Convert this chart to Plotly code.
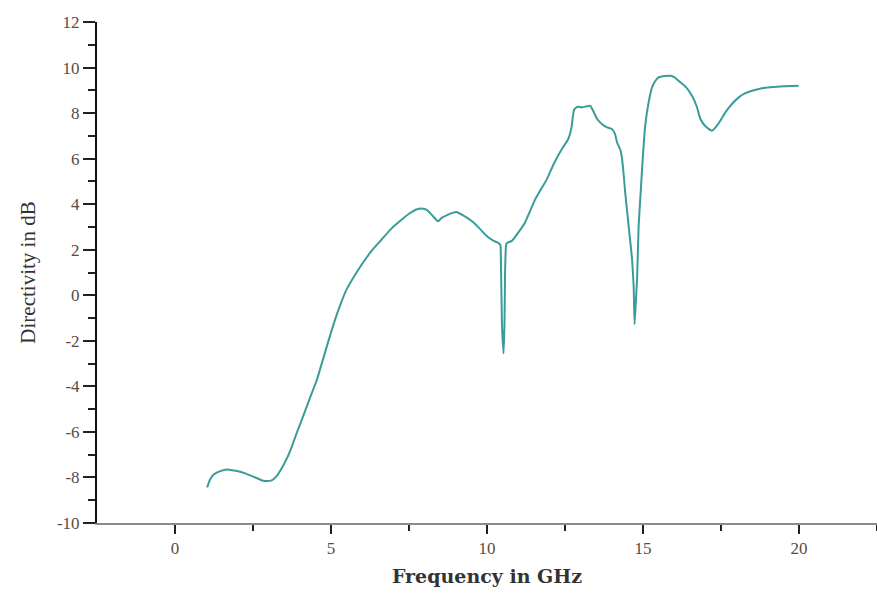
import plotly.graph_objects as go

freq = [1.03, 1.12, 1.24, 1.45, 1.67, 1.99, 2.25, 2.47, 2.79, 2.95, 3.1, 3.25, 3.43, 3.6, 3.75, 3.9, 4.07, 4.3, 4.55,
        4.8, 5.03, 5.25, 5.5, 5.75, 5.99, 6.3, 6.63, 6.95, 7.28, 7.5, 7.76, 7.95, 8.08, 8.25, 8.43, 8.55, 8.72,
        8.9, 9.04, 9.25, 9.52, 9.75, 10.0, 10.2, 10.32, 10.40, 10.43, 10.45, 10.48, 10.53,
        10.56, 10.58, 10.61, 10.64, 10.8, 11.0, 11.22, 11.54, 11.92, 12.15, 12.4, 12.6, 12.7, 12.79, 12.9, 13.04,
        13.2, 13.31, 13.42, 13.53, 13.7, 13.85, 14.0, 14.1, 14.17, 14.27, 14.33, 14.38, 14.43, 14.54, 14.65,
        14.7, 14.73, 14.77, 14.81, 14.86, 14.92, 14.97, 15.07, 15.18, 15.29, 15.4,
        15.5, 15.7, 15.88, 16.0, 16.14, 16.37, 16.57, 16.72, 16.84, 17.0, 17.21, 17.4, 17.64, 17.85, 18.07,
        18.25, 18.49, 18.75, 19.08, 19.5, 19.99]
directivity = [-8.44, -8.1, -7.87, -7.72, -7.65, -7.72, -7.82, -7.94, -8.13, -8.16, -8.13, -7.95, -7.57, -7.12,
               -6.62, -6.05, -5.45, -4.6, -3.7, -2.55, -1.5, -0.6, 0.26, 0.85, 1.36, 1.95, 2.46, 2.95, 3.34, 3.58,
               3.78, 3.8, 3.74, 3.5, 3.25, 3.4, 3.52, 3.62, 3.65, 3.5, 3.25, 2.95, 2.59, 2.4, 2.33, 2.25, 2.2, 1.1,
               -1.3, -2.55, -1.3, 1.1, 2.2, 2.3, 2.39, 2.75, 3.2, 4.2, 5.1, 5.8, 6.42, 6.85, 7.3, 8.15, 8.28, 8.25,
               8.3, 8.32, 8.05, 7.74, 7.5, 7.37, 7.3, 7.1, 6.71, 6.4, 5.98, 5.3, 4.5, 3.05, 1.58,
               0.41, -1.27, -0.3, 0.7, 3.05, 4.4, 5.54, 7.44, 8.47, 9.13, 9.42,
               9.57, 9.63, 9.64, 9.58, 9.42, 9.15, 8.76, 8.3, 7.74, 7.42, 7.22, 7.5, 8.03, 8.4, 8.69,
               8.85, 8.98, 9.07, 9.13, 9.18, 9.2]

x_ticks = [0, 5, 10, 15, 20]
y_ticks = [-10, -8, -6, -4, -2, 0, 2, 4, 6, 8, 10, 12]

label_color = "#5a4a44"

fig = go.Figure()
fig.add_trace(go.Scatter(x=freq, y=directivity, mode="lines",
                         line=dict(color="#3a9c98", width=2, shape="spline", smoothing=0.4),
                         showlegend=False))

fig.update_layout(
    width=877, height=596,
    margin=dict(l=97, r=0, t=22, b=73),
    paper_bgcolor="white", plot_bgcolor="white",
    xaxis=dict(
        range=[-2.5, 22.5], tickvals=x_ticks, ticktext=[str(v) for v in x_ticks],
        ticks="outside", ticklen=9, tickwidth=2, tickcolor="#222",
        showline=True, linecolor="#8a8a8a", linewidth=2, showgrid=False, zeroline=False,
        tickfont=dict(family="Liberation Serif", size=17, color=label_color),
        minor=dict(tickvals=[2.5, 7.5, 12.5, 17.5, 22.5], ticks="outside", ticklen=6, tickwidth=2, tickcolor="#222"),
        title=dict(text="<b>Frequency in GHz</b>", standoff=12,
                   font=dict(family="DejaVu Serif", size=19, color="#333")),
    ),
    yaxis=dict(
        range=[-10, 12], tickvals=y_ticks, ticktext=[str(v) for v in y_ticks],
        ticks="outside", ticklen=12, tickwidth=2, tickcolor="#222",
        showline=True, linecolor="#111", linewidth=2, showgrid=False, zeroline=False,
        tickfont=dict(family="Liberation Serif", size=17, color=label_color),
        minor=dict(dtick=1, tick0=0, ticks="outside", ticklen=7, tickwidth=2, tickcolor="#222"),
        title=dict(text="Directivity in dB", standoff=16,
                   font=dict(family="Liberation Serif", size=21, color="#333")),
    ),
)

fig.write_html("out.html")
